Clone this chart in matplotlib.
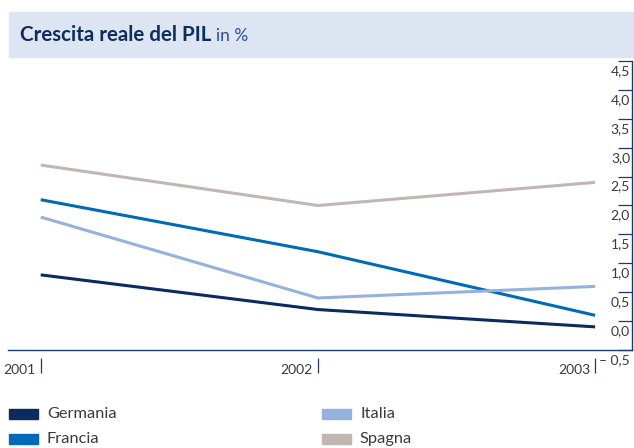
import matplotlib
matplotlib.use('Agg')
import matplotlib.pyplot as plt
import matplotlib.transforms as mtransforms
from matplotlib.patches import Rectangle

plt.rcParams['font.family'] = ['Liberation Sans Narrow', 'Lato', 'DejaVu Sans']

# data (real GDP growth, %)
years = [2001, 2002, 2003]
germania = [0.8, 0.2, -0.1]
francia = [2.1, 1.2, 0.1]
italia = [1.8, 0.4, 0.6]
spagna = [2.7, 2.0, 2.4]
series_names = ['Germania', 'Francia', 'Italia', 'Spagna']
series_colors = ['#0b2a5e', '#006ab6', '#95b2de', '#c1b7b2']
y_ticks = [-0.5, 0.0, 0.5, 1.0, 1.5, 2.0, 2.5, 3.0, 3.5, 4.0, 4.5]

navy = '#1c3a72'
grey_text = '#3a3a3a'

W, H = 634, 448
fig = plt.figure(figsize=(W / 100, H / 100), dpi=100)

# title bar
fig.patches.append(Rectangle((9 / W, 1 - 57 / H), 1 - 9 / W, 45 / H,
                             transform=fig.transFigure, color='#dee5f2', zorder=0))
t = fig.text(20 / W, 1 - 41 / H, 'Crescita reale del PIL', fontsize=14.8,
             fontweight='bold', color='#0d2d5e', va='baseline')
fig.canvas.draw()
bb = t.get_window_extent().transformed(fig.transFigure.inverted())
fig.text(bb.x1 + 5 / W, 1 - 41 / H, 'in %', fontsize=12.5, color='#2f4f8e',
         va='baseline', ha='left')

ax = fig.add_axes([8 / W, 98 / H, 624 / W, 289 / H])
for vals, name, col in zip([germania, francia, italia, spagna], series_names, series_colors):
    ax.plot(years, vals, color=col, lw=2.2, solid_capstyle='butt', label=name)

ax.set_xlim(2001 - 0.118, 2003 + 0.133)
ax.set_ylim(-0.5, 4.5)

for s in ['top', 'left']:
    ax.spines[s].set_visible(False)
for s in ['bottom', 'right']:
    ax.spines[s].set_color(navy)
    ax.spines[s].set_linewidth(1.0)

ax.yaxis.tick_right()
ax.set_yticks(y_ticks)
ax.tick_params(axis='y', direction='in', length=10, width=0.9, color=navy,
               labelright=False, labelleft=False)
ax.set_xticks([])

ytrans = mtransforms.blended_transform_factory(ax.transAxes, ax.transData)
for v in y_ticks:
    lab = ('– ' if v < 0 else '') + f'{abs(v):.1f}'.replace('.', ',')
    ax.annotate(lab, xy=(1, v), xycoords=ytrans, xytext=(-2, -4),
                textcoords='offset pixels', ha='right', va='top',
                fontsize=10, color=grey_text, annotation_clip=False)

xtrans = mtransforms.blended_transform_factory(ax.transData, ax.transAxes)
ax.vlines(years, -0.028, -0.08, transform=xtrans, color=navy, lw=0.9, clip_on=False)
for yr in years:
    ax.annotate(str(yr), xy=(yr, 0), xycoords=xtrans, xytext=(-5, -20),
                textcoords='offset pixels', ha='right', va='center',
                fontsize=10, color=grey_text, annotation_clip=False)

# legend
leg_x = [9, 9, 322, 322]
leg_y = [414, 438.5, 414, 438.5]
for name, col, lx, ly in zip(series_names, series_colors, leg_x, leg_y):
    fig.patches.append(Rectangle((lx / W, 1 - (ly + 5) / H), 29 / W, 10 / H,
                                 transform=fig.transFigure, color=col))
    fig.text((lx + 38) / W, 1 - ly / H, name, fontsize=11.8, color=grey_text,
             va='center', ha='left')

fig.savefig('out.png', dpi=100)
